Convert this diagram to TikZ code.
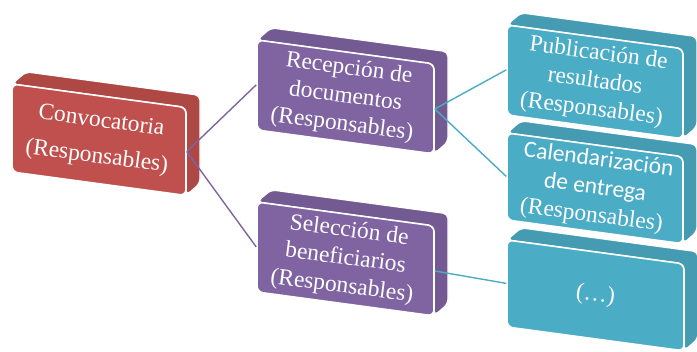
\documentclass[tikz,border=0pt]{standalone}
\usepackage{fontspec}
\setmainfont{Liberation Serif}
\newfontfamily\calibfont{Carlito}
\definecolor{cred}{HTML}{C0504D}
\definecolor{cpurple}{HTML}{8064A2}
\definecolor{cteal}{HTML}{4BACC6}
\tikzset{
 facebox/.style={draw=white, line width=1.6pt, rounded corners=6pt, inner sep=0pt, transform shape},
 facetext/.style={text=white, align=center, inner sep=0pt, rotate=-7.4, font=\fontsize{23.5}{28}\selectfont},
 depthface/.style={draw=white, line width=1.2pt, rounded corners=5pt},
 link/.style={line width=1.4pt}
}
\newcommand{\solidbox}[7]{%
 \begin{scope}[shift={(#2,#3)}, yslant=-0.135]
   \filldraw[depthface, fill=#6!90!black] (0,#5) -- (#4,#5) -- (#4,0) -- ({#4+14},14) -- ({#4+14},{#5+14}) -- (14,{#5+14}) -- cycle;
   \node[facebox, fill=#6, minimum width=#4pt, minimum height=#5pt] (#1) at ({#4/2},{#5/2}) {};
 \end{scope}
 \node[facetext] (#1-t) at (#1.center) {#7};}
\begin{document}
\begin{tikzpicture}[x=1pt,y=1pt]
\useasboundingbox[fill=white] (0,0) rectangle (697,352);
\solidbox{conv}{12}{180}{174}{88}{cred}{Convocatoria\\[8pt](Responsables)}
\solidbox{rec}{257}{222}{177}{90}{cpurple}{Recepción de\\documentos\\(Responsables)}
\solidbox{sel}{257}{60}{177}{90}{cpurple}{Selección de\\beneficiarios\\(Responsables)}
\solidbox{pub}{507}{237}{176}{90}{cteal}{Publicación de\\resultados\\(Responsables)}
\solidbox{cal}{507}{132}{176}{87}{cteal}{{\calibfont Calendarización}\\{\calibfont de entrega}\\(Responsables)}
\solidbox{dots}{507}{25}{177}{87}{cteal}{(…)}
\draw[link, cpurple] (conv.east) -- (rec.west);
\draw[link, cpurple] (conv.east) -- (sel.west);
\draw[link, cteal] (rec.east) -- (pub.west);
\draw[link, cteal] (rec.east) -- (cal.west);
\draw[link, cteal] (sel.east) -- (dots.west);
\end{tikzpicture}
\end{document}
